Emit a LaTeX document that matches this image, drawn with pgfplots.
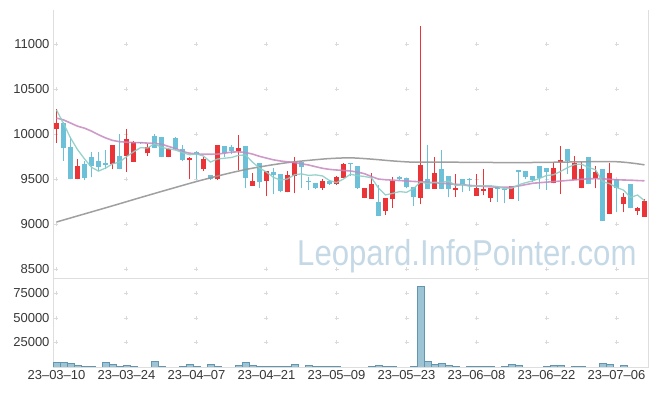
\documentclass[border=0pt]{standalone}
\usepackage{fontspec}
\setmainfont{Liberation Sans}
\usepackage{graphicx}
\usepackage{pgfplots}
\pgfplotsset{compat=1.18}
\usepackage{pgfplotstable}

\definecolor{cup}{RGB}{234,52,56}
\definecolor{cdown}{RGB}{108,192,215}
\definecolor{mafive}{RGB}{140,206,196}
\definecolor{matwenty}{RGB}{198,136,190}
\definecolor{malong}{RGB}{150,150,150}
\definecolor{volfill}{RGB}{156,196,213}
\definecolor{voledge}{RGB}{98,150,176}
\definecolor{axisgray}{RGB}{222,222,222}
\definecolor{crossgray}{RGB}{218,218,218}
\definecolor{labelgray}{RGB}{55,55,55}
\definecolor{wm}{RGB}{197,216,229}

\pgfplotsset{candle/.style={only marks, mark=*, mark size=0pt, mark options={draw=none, fill=none}, forget plot,
  error bars/.cd, y dir=plus, y explicit, error mark=none}}

\pgfplotstableread{
i o h l c
0 10055 10280 9907 10122
3 9503 9722 9500 9648
8 9666 9881 9611 9881
10 9762 10055 9585 9948
11 9696 9920 9690 9911
13 9788 9888 9759 9863
16 9751 9851 9744 9836
19 9714 9745 9500 9740
21 9614 9751 9592 9722
23 9500 9885 9492 9881
26 9814 9992 9603 9844
28 9429 9566 9429 9481
30 9485 9592 9314 9592
33 9355 9596 9355 9544
34 9540 9744 9344 9696
38 9407 9503 9381 9481
40 9444 9537 9436 9522
41 9518 9685 9518 9666
44 9296 9400 9290 9400
45 9281 9566 9281 9448
47 9151 9290 9103 9288
48 9285 9529 9185 9481
52 9296 11200 9222 9659
54 9392 9744 9392 9574
57 9381 9559 9307 9403
60 9318 9559 9318 9407
61 9374 9611 9322 9392
62 9296 9407 9248 9407
65 9285 9425 9285 9425
71 9455 9692 9455 9626
72 9696 9870 9336 9714
74 9492 9759 9492 9685
75 9400 9696 9400 9614
77 9511 9651 9400 9585
79 9114 9685 9114 9574
81 9229 9344 9133 9299
83 9151 9189 9103 9177
84 9085 9281 9085 9259
}\upc

\pgfplotstableread{
i o h l c
1 10129 10140 9707 9851
2 9858 9973 9500 9500
4 9670 9700 9490 9515
5 9748 9800 9522 9651
6 9703 9800 9590 9640
7 9676 9820 9610 9664
9 9759 10000 9614 9614
12 9912 9915 9895 9900
14 9981 10000 9851 9851
15 9966 9970 9744 9744
17 9962 9970 9820 9833
18 9836 9881 9700 9714
20 9800 9813 9500 9781
22 9548 9548 9495 9500
24 9870 9870 9744 9788
25 9855 9881 9777 9818
27 9870 9870 9400 9518
29 9677 9677 9400 9466
31 9585 9622 9333 9548
32 9559 9560 9355 9370
35 9696 9700 9400 9640
36 9485 9530 9381 9466
37 9455 9460 9395 9400
39 9485 9490 9440 9444
42 9685 9685 9537 9666
43 9648 9648 9395 9400
46 9244 9437 9090 9096
49 9522 9537 9490 9500
50 9511 9511 9400 9411
51 9411 9411 9203 9300
53 9503 9881 9392 9392
55 9614 9825 9392 9392
56 9537 9537 9300 9388
58 9500 9500 9355 9437
59 9507 9510 9374 9495
63 9411 9411 9248 9392
64 9393 9395 9233 9381
66 9603 9603 9263 9585
67 9596 9596 9503 9529
68 9537 9540 9470 9492
69 9648 9648 9388 9518
70 9626 9626 9381 9585
73 9836 9836 9559 9703
76 9744 9744 9444 9444
78 9614 9614 9040 9040
80 9500 9500 9133 9400
82 9448 9448 9177 9177
}\downc

\pgfplotstableread{
i v
0 10270
1 10120
2 9960
3 9830
4 9727
5 9633
6 9591
7 9624
8 9671
9 9691
10 9750
11 9804
12 9851
13 9847
14 9895
15 9854
16 9839
17 9825
18 9796
19 9773
20 9781
21 9758
22 9691
23 9725
24 9734
25 9742
26 9766
27 9770
28 9690
29 9625
30 9580
31 9521
32 9491
33 9504
34 9550
35 9560
36 9543
37 9549
38 9537
39 9486
40 9463
41 9503
42 9556
43 9540
44 9531
45 9516
46 9402
47 9326
48 9343
49 9363
50 9355
51 9396
52 9470
53 9452
54 9467
55 9463
56 9481
57 9430
58 9439
59 9423
60 9426
61 9427
62 9428
63 9419
64 9396
65 9399
66 9438
67 9462
68 9482
69 9510
70 9542
71 9550
72 9587
73 9629
74 9663
75 9668
76 9632
77 9606
78 9474
79 9451
80 9409
81 9380
82 9298
83 9325
84 9262
}\mafivetab

\pgfplotstableread{
i v
0 10180
1 10160
2 10125
3 10090
4 10068
5 10035
6 9995
7 9960
8 9932
9 9918
10 9912
11 9908
12 9907
13 9902
14 9898
15 9890
16 9865
17 9842
18 9808
19 9790
20 9782
21 9778
22 9778
23 9780
24 9790
25 9802
26 9805
27 9798
28 9780
29 9755
30 9735
31 9716
32 9703
33 9694
34 9686
35 9672
36 9659
37 9640
38 9622
39 9610
40 9603
41 9598
42 9592
43 9580
44 9562
45 9530
46 9502
47 9495
48 9490
49 9486
50 9481
51 9476
52 9472
53 9468
54 9462
55 9456
56 9450
57 9445
58 9440
59 9432
60 9426
61 9421
62 9416
63 9412
64 9411
65 9414
66 9425
67 9440
68 9455
69 9462
70 9468
71 9474
72 9480
73 9487
74 9493
75 9500
76 9505
77 9507
78 9505
79 9500
80 9495
81 9492
82 9490
83 9486
84 9483
}\matwentytab

\pgfplotstableread{
i v
0 9025
4 9115
8 9205
12 9297
16 9387
20 9475
24 9555
27 9608
30 9650
33 9685
36 9710
39 9730
42 9738
45 9724
48 9704
51 9690
55 9690
60 9688
65 9685
70 9688
75 9694
79 9697
81 9690
83 9672
84 9660
}\malongtab

\pgfplotstableread{
i v
0 4600
1 4600
2 3600
3 1500
4 500
5 500
7 4600
8 2500
9 500
10 1500
11 500
14 5600
15 500
18 500
19 2500
20 500
22 2500
23 500
26 1500
27 4600
28 1500
29 500
30 500
31 500
32 500
33 500
34 2500
36 1500
37 500
38 500
39 500
40 500
45 500
46 1500
47 500
48 500
51 500
52 82400
53 5600
54 2500
55 3600
56 1500
57 500
59 500
60 500
61 500
62 500
64 500
65 2500
66 1500
70 500
71 1500
72 1500
74 500
75 500
78 3600
79 2500
81 1500
}\voltab

\begin{document}
\begin{tikzpicture}
\useasboundingbox (0,0) rectangle (657pt,396pt);

\node[anchor=base west, inner sep=0pt, text=wm] at (297pt,130pt)
  {\scalebox{0.865}[1]{\fontsize{36}{36}\selectfont Leopard.InfoPointer.com}};

\begin{axis}[
  at={(53pt,118pt)}, anchor=south west,
  scale only axis, width=595pt, height=268pt,
  xmin=-0.5, xmax=84.5, ymin=8403, ymax=11381,
  axis line style={draw=none},
  tick style={draw=none},
  xtick=\empty,
  ytick={8500,9000,9500,10000,10500,11000},
  yticklabels={8500,9000,9500,10000,10500,11000},
  scaled y ticks=false,
  yticklabel style={font=\fontsize{13}{13}\selectfont, text=labelgray},
  /pgf/number format/assume math mode=true,
  clip mode=individual,
]
\draw[axisgray, line width=0.8pt] (rel axis cs:0,1) -- (rel axis cs:0,0) -- (rel axis cs:1,0) -- (rel axis cs:1,1);
\addplot[only marks, mark=+, mark size=2pt, color=crossgray, forget plot] coordinates {
(0,8500)(10,8500)(20,8500)(30,8500)(40,8500)(50,8500)(60,8500)(70,8500)(80,8500)
(0,9000)(10,9000)(20,9000)(30,9000)(40,9000)(50,9000)(60,9000)(70,9000)(80,9000)
(0,9500)(10,9500)(20,9500)(30,9500)(40,9500)(50,9500)(60,9500)(70,9500)(80,9500)
(0,10000)(10,10000)(20,10000)(30,10000)(40,10000)(50,10000)(60,10000)(70,10000)(80,10000)
(0,10500)(10,10500)(20,10500)(30,10500)(40,10500)(50,10500)(60,10500)(70,10500)(80,10500)
(0,11000)(10,11000)(20,11000)(30,11000)(40,11000)(50,11000)(60,11000)(70,11000)(80,11000)
};
% wicks
\addplot[candle, error bar style={line width=1pt, draw=cup}]
  table[x=i, y=l, y error plus expr=\thisrow{h}-\thisrow{l}] {\upc};
\addplot[candle, error bar style={line width=1pt, draw=cdown}]
  table[x=i, y=l, y error plus expr=\thisrow{h}-\thisrow{l}] {\downc};
% bodies
\addplot[candle, error bar style={line width=5pt, draw=cup}]
  table[x=i, y=o, y error plus expr=\thisrow{c}-\thisrow{o}] {\upc};
\addplot[candle, error bar style={line width=5pt, draw=cdown}]
  table[x=i, y=c, y error plus expr=\thisrow{o}-\thisrow{c}] {\downc};
% moving averages
\addplot[malong, line width=1.5pt, opacity=0.9, smooth, mark=none] table[x=i, y=v] {\malongtab};
\addplot[matwenty, line width=1.6pt, opacity=0.85, mark=none] table[x=i, y=v] {\matwentytab};
\addplot[mafive, line width=1.3pt, opacity=0.9, mark=none] table[x=i, y=v] {\mafivetab};
\end{axis}

\begin{axis}[
  at={(53pt,29pt)}, anchor=south west,
  scale only axis, width=595pt, height=89pt,
  xmin=-0.5, xmax=84.5, ymin=0, ymax=90800,
  axis line style={draw=none},
  tick style={draw=none},
  xtick={0,10,20,30,40,50,60,70,80},
  xticklabels={23–03–10,23–03–24,23–04–07,23–04–21,23–05–09,23–05–23,23–06–08,23–06–22,23–07–06},
  ytick={25000,50000,75000},
  yticklabels={25000,50000,75000},
  scaled y ticks=false,
  ticklabel style={font=\fontsize{13}{13}\selectfont, text=labelgray},
  /pgf/number format/assume math mode=true,
  clip mode=individual,
]
\draw[axisgray, line width=0.8pt] (rel axis cs:0,1) -- (rel axis cs:0,0) -- (rel axis cs:1,0) -- (rel axis cs:1,1);
\addplot[only marks, mark=+, mark size=2pt, color=crossgray, forget plot] coordinates {
(0,25000)(10,25000)(20,25000)(30,25000)(40,25000)(50,25000)(60,25000)(70,25000)(80,25000)
(0,50000)(10,50000)(20,50000)(30,50000)(40,50000)(50,50000)(60,50000)(70,50000)(80,50000)
(0,75000)(10,75000)(20,75000)(30,75000)(40,75000)(50,75000)(60,75000)(70,75000)(80,75000)
};
\addplot[ybar, bar width=6.6pt, fill=volfill, draw=voledge, line width=0.5pt] table[x=i, y=v] {\voltab};
\end{axis}
\end{tikzpicture}
\end{document}
